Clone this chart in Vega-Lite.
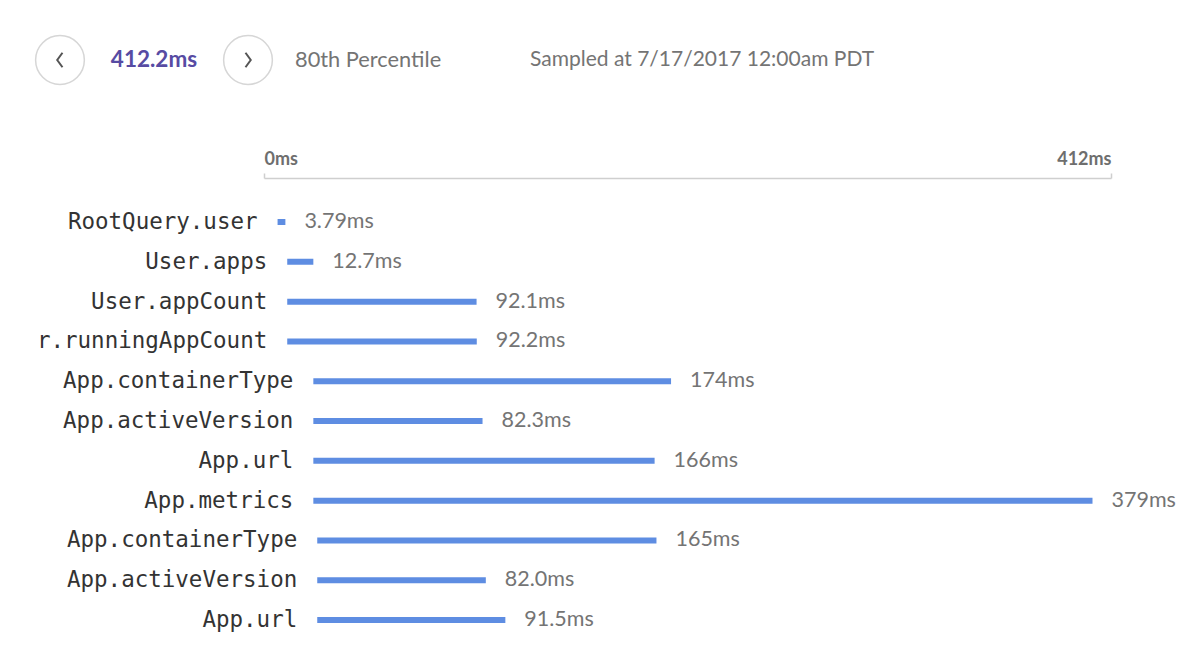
{
  "$schema": "https://vega.github.io/schema/vega-lite/v6.json",
  "background": "white",
  "padding": {"left": 32, "top": 30, "right": 5, "bottom": 5},
  "spacing": 60,
  "config": {"view": {"stroke": null}, "font": "Lato"},
  "vconcat": [
    {
      "width": 524,
      "height": 60,
      "data": {"values": [
        {"item": "prev", "text": ""},
        {"item": "value", "text": "412.2ms"},
        {"item": "next", "text": ""},
        {"item": "pct", "text": "80th Percentile"},
        {"item": "sampled", "text": "Sampled at 7/17/2017 12:00am PDT"}
      ]},
      "encoding": {
        "x": {"field": "item", "type": "nominal", "axis": null,
          "scale": {"type": "point", "padding": 0.574,
            "domain": ["prev", "s1", "value", "s3", "next", "pct", "s6", "s7", "s8", "s9", "sampled"]}}
      },
      "layer": [
        {
          "transform": [{"filter": "datum.item == 'prev' || datum.item == 'next'"}],
          "mark": {"type": "point", "shape": "circle", "size": 2376, "filled": false, "stroke": "#d6d6d6", "strokeWidth": 1.5, "opacity": 1}
        },
        {
          "transform": [{"filter": "datum.item == 'prev'"}],
          "mark": {"type": "point", "shape": "M 0.2 -0.58 L -0.22 0 L 0.2 0.58", "size": 625, "filled": false, "stroke": "#555555", "strokeWidth": 2, "opacity": 1}
        },
        {
          "transform": [{"filter": "datum.item == 'next'"}],
          "mark": {"type": "point", "shape": "M -0.2 -0.58 L 0.22 0 L -0.2 0.58", "size": 625, "filled": false, "stroke": "#555555", "strokeWidth": 2, "opacity": 1}
        },
        {
          "transform": [{"filter": "datum.item == 'value'"}],
          "mark": {"type": "text", "align": "center", "baseline": "middle", "font": "Lato", "fontSize": 22.5, "fontWeight": "bold", "color": "#574ba3"},
          "encoding": {"text": {"field": "text"}}
        },
        {
          "transform": [{"filter": "datum.item == 'pct'"}],
          "mark": {"type": "text", "align": "left", "baseline": "middle", "font": "Lato", "fontSize": 21.8, "color": "#747474"},
          "encoding": {"text": {"field": "text"}}
        },
        {
          "transform": [{"filter": "datum.item == 'sampled'"}],
          "mark": {"type": "text", "align": "left", "baseline": "middle", "font": "Lato", "fontSize": 21, "color": "#747474"},
          "encoding": {"text": {"field": "text"}}
        }
      ]
    },
    {
      "width": 1078,
      "height": 462,
      "data": {"values": [
        {"id": 1, "name": "RootQuery.user", "start": 6.6, "end": 10.4, "label": "3.79ms"},
        {"id": 2, "name": "User.apps", "start": 11.3, "end": 24.0, "label": "12.7ms"},
        {"id": 3, "name": "User.appCount", "start": 11.3, "end": 103.4, "label": "92.1ms"},
        {"id": 4, "name": "r.runningAppCount", "start": 11.3, "end": 103.5, "label": "92.2ms"},
        {"id": 5, "name": "App.containerType", "start": 24.0, "end": 198.0, "label": "174ms"},
        {"id": 6, "name": "App.activeVersion", "start": 24.0, "end": 106.3, "label": "82.3ms"},
        {"id": 7, "name": "App.url", "start": 24.0, "end": 190.0, "label": "166ms"},
        {"id": 8, "name": "App.metrics", "start": 24.0, "end": 403.0, "label": "379ms"},
        {"id": 9, "name": "App.containerType", "start": 25.9, "end": 190.9, "label": "165ms"},
        {"id": 10, "name": "App.activeVersion", "start": 25.9, "end": 107.9, "label": "82.0ms"},
        {"id": 11, "name": "App.url", "start": 25.9, "end": 117.4, "label": "91.5ms"}
      ]},
      "encoding": {
        "y": {"field": "id", "type": "ordinal", "axis": null,
          "scale": {"type": "band", "paddingInner": 0, "paddingOuter": 0.303, "align": 1}}
      },
      "layer": [
        {
          "mark": {"type": "bar", "size": 6, "color": "#5e8de2"},
          "encoding": {
            "x": {"field": "start", "type": "quantitative",
              "scale": {"domain": [0, 412], "range": [231, 1078], "nice": false, "zero": true},
              "axis": {"orient": "top", "values": [0, 412], "labelExpr": "datum.value + 'ms'", "labelFlush": true,
                "domainColor": "#cfcfcf", "domainWidth": 1.5, "tickColor": "#cfcfcf", "tickWidth": 1.5, "tickSize": 5,
                "labelFont": "Lato", "labelFontSize": 18, "labelFontWeight": "bold", "labelColor": "#6e6e6e",
                "labelPadding": 5, "grid": false, "title": null}},
            "x2": {"field": "end"}
          }
        },
        {
          "mark": {"type": "text", "align": "right", "baseline": "middle", "dx": -20, "font": "DejaVu Sans Mono", "fontSize": 22.5, "color": "#333333"},
          "encoding": {
            "x": {"field": "start", "type": "quantitative"},
            "text": {"field": "name"}
          }
        },
        {
          "mark": {"type": "text", "align": "left", "baseline": "middle", "dx": 19, "font": "Lato", "fontSize": 21.5, "color": "#747474"},
          "encoding": {
            "x": {"field": "end", "type": "quantitative"},
            "text": {"field": "label"}
          }
        }
      ]
    }
  ]
}
